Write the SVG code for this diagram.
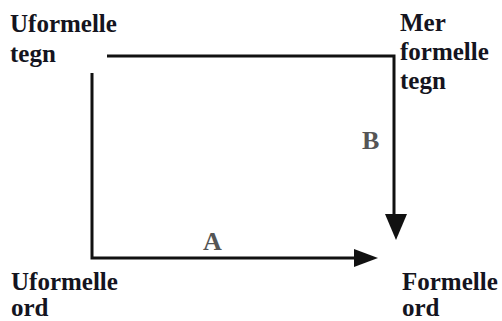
<svg xmlns="http://www.w3.org/2000/svg" width="502" height="321" viewBox="0 0 502 321">
<style>
.lbl{font-family:"Liberation Serif","Times New Roman",serif;font-weight:bold;font-size:25px;fill:#141420}
.key{font-family:"Liberation Serif","Times New Roman",serif;font-weight:bold;font-size:26px;fill:#555}
.ln{stroke:#111;stroke-width:3;fill:none}
.head{fill:#111}
</style>
<rect width="502" height="321" fill="#fff"/>
<g id="connectors">
<polyline class="ln" points="107,56 394,56 394,216"/>
<polygon class="head" points="385,214 407,214 396,240"/>
<polyline class="ln" points="92,73 92,258 356,258"/>
<polygon class="head" points="354,249 354,267 378,258"/>
<text class="key" x="362" y="149">B</text>
<text class="key" x="203" y="250">A</text>
</g>
<g id="n1"><text class="lbl" x="10" y="32">Uformelle</text><text class="lbl" x="10" y="62">tegn</text></g>
<g id="n2"><text class="lbl" x="400" y="31">Mer</text><text class="lbl" x="400" y="60">formelle</text><text class="lbl" x="400" y="89">tegn</text></g>
<g id="n3"><text class="lbl" x="11" y="290">Uformelle</text><text class="lbl" x="11" y="316">ord</text></g>
<g id="n4"><text class="lbl" x="402" y="290">Formelle</text><text class="lbl" x="402" y="316">ord</text></g>
</svg>
